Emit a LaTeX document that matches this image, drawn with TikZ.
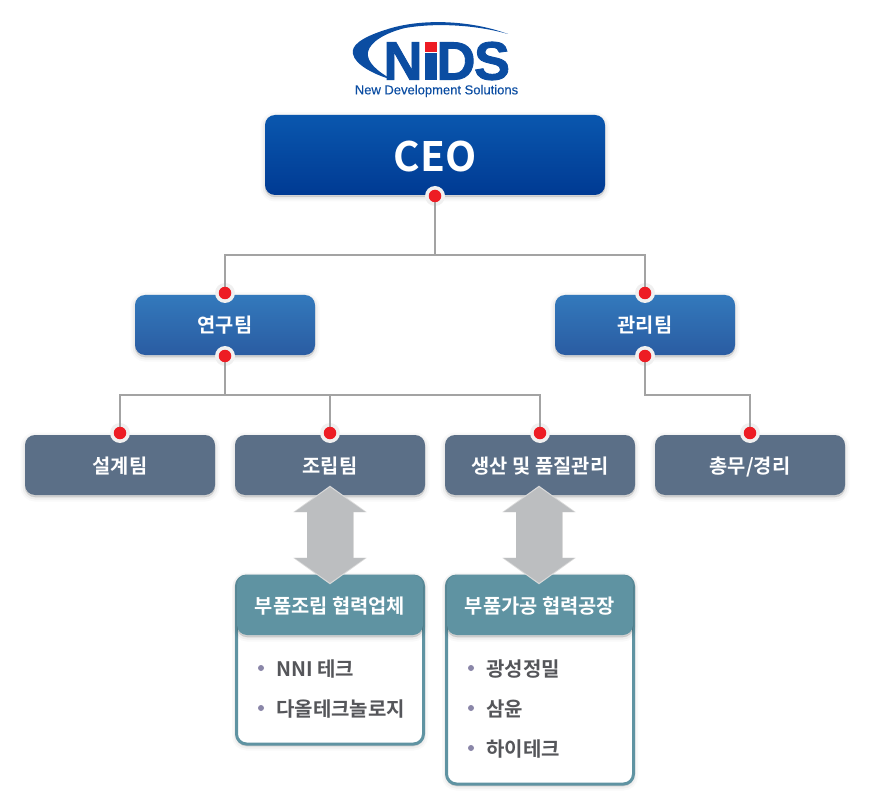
\documentclass[tikz,border=0pt]{standalone}
\usepackage{fontspec}
\setmainfont{Noto Sans CJK KR}[BoldFont={Noto Sans CJK KR Bold}]
\newfontfamily\logofont{Liberation Sans}[FakeBold=0.3]
\newfontfamily\logoheavy{Liberation Sans Bold}[FakeBold=1.6]
\usetikzlibrary{shadows,arrows.meta}

\definecolor{logoblue}{HTML}{0B4DA2}
\definecolor{ceotop}{HTML}{0A57AE}
\definecolor{ceobottom}{HTML}{003A93}
\definecolor{midtop}{HTML}{3379BC}
\definecolor{midbottom}{HTML}{2A5CA2}
\definecolor{teamgrey}{HTML}{5B6F87}
\definecolor{partnerteal}{HTML}{5F93A2}
\definecolor{wiregrey}{HTML}{A3A3A3}
\definecolor{dotred}{HTML}{ED1C24}
\definecolor{ringgrey}{HTML}{F0F0F0}
\definecolor{swapedge}{HTML}{DADADA}
\definecolor{arrowgrey}{HTML}{BCBEC0}
\definecolor{bulletgrey}{HTML}{8A86A8}
\definecolor{itemgrey}{HTML}{55565A}

\tikzset{
    softshadow/.style={
        general shadow={fill=black,draw=black,line width=9pt,opacity=.025,shadow yshift=-2pt},
        general shadow={fill=black,draw=black,line width=5pt,opacity=.04,shadow yshift=-2pt},
        general shadow={fill=black,draw=black,line width=1pt,opacity=.06,shadow yshift=-2pt}},
    boxbase/.style={rounded corners=10pt,softshadow,text=white,font=\bfseries\fontsize{19.8}{22}\selectfont,inner sep=0pt,text height=16pt,text depth=0pt},
    ceobox/.style={boxbase,minimum width=340pt,minimum height=80pt,top color=ceotop,bottom color=ceobottom,font=\bfseries\fontsize{40.5}{44}\selectfont,text height=33pt},
    midbox/.style={boxbase,minimum width=180pt,minimum height=60pt,top color=midtop,bottom color=midbottom},
    teambox/.style={boxbase,minimum width=190pt,minimum height=60pt,fill=teamgrey},
    partnerbox/.style={rounded corners=10pt,softshadow,draw=partnerteal,line width=3pt,fill=white,minimum width=187pt,inner sep=0pt},
    partnerhead/.style={boxbase,minimum width=186pt,minimum height=60pt,fill=partnerteal},
    wire/.style={draw=wiregrey,line width=2pt},
    jointring/.style={circle,fill=ringgrey,minimum size=20pt,inner sep=0pt},
    joint/.style={circle,fill=dotred,minimum size=12.5pt,inner sep=0pt},
    swapunder/.style={draw=swapedge,line width=47pt,shorten <=-9.5pt,shorten >=-9.5pt,
        {Triangle[width=72.5pt,length=26.5pt]}-{Triangle[width=72.5pt,length=26.5pt]}},
    swap/.style={draw=arrowgrey,line width=46pt,shorten <=-8pt,shorten >=-8pt,
        {Triangle[width=70pt,length=25pt]}-{Triangle[width=70pt,length=25pt]}},
    bullet/.style={circle,fill=bulletgrey,minimum size=6pt,inner sep=0pt},
    item/.style={anchor=west,text=itemgrey,font=\bfseries\fontsize{20}{22}\selectfont,inner sep=0pt,text height=16pt,text depth=0pt}
}

\begin{document}
\begin{tikzpicture}[x=1pt,y=-1pt]
    \useasboundingbox (0,0) rectangle (870,810);

    % logo
    \fill[logoblue] (508,34) .. controls (470,20) and (420,18) .. (385,30)
        .. controls (360,38) and (351,46) .. (353,54)
        .. controls (355,65) and (375,75) .. (393,80)
        .. controls (378,72) and (366,62) .. (368,52)
        .. controls (370,42) and (385,33) .. (405,28)
        .. controls (440,22) and (480,26) .. (508,34) -- cycle;
    \node[logoblue,inner sep=0pt] (logoN) at (403,61) {\logoheavy\fontsize{54}{54}\selectfont N};
    \fill[logoblue] (425,53) rectangle (437,80);
    \fill[dotred] (425,42) rectangle (437,52);
    \node[logoblue,inner sep=0pt] (logoD) at (456,61) {\logoheavy\fontsize{54}{54}\selectfont D};
    \node[logoblue,inner sep=0pt] (logoS) at (492,61) {\logoheavy\fontsize{54}{54}\selectfont S};
    \node[logoblue,inner sep=0pt] (logotext) at (436.5,91) {\logofont\fontsize{13}{14}\selectfont New Development Solutions};

    % boxes
    \node[ceobox] (ceo) at (435,155) {CEO};
    \node[midbox] (research) at (225,325) {연구팀};
    \node[midbox] (admin) at (645,325) {관리팀};
    \node[teambox] (design) at (120,465) {설계팀};
    \node[teambox] (assembly) at (330,465) {조립팀};
    \node[teambox] (quality) at (540,465) {생산 및 품질관리};
    \node[teambox] (general) at (750,465) {총무/경리};

    % rings behind the lines, red dots in front
    \node[jointring] (rceo) at (435,196) {};
    \node[jointring] (rresearchtop) at (225,293) {};
    \node[jointring] (rresearchbot) at (225,356) {};
    \node[jointring] (radmintop) at (645,293) {};
    \node[jointring] (radminbot) at (645,356) {};
    \node[jointring] (rdesign) at (120,433) {};
    \node[jointring] (rassembly) at (330,433) {};
    \node[jointring] (rquality) at (540,433) {};
    \node[jointring] (rgeneral) at (750,433) {};

    % connecting lines
    \coordinate (ceohub) at (435,255);
    \coordinate (researchhub) at (225,395);
    \coordinate (adminhub) at (645,395);
    \draw[wire] (rceo.center) -- (ceohub) -| (rresearchtop.center);
    \draw[wire] (ceohub) -| (radmintop.center);
    \draw[wire] (rresearchbot.center) -- (researchhub) -| (rdesign.center);
    \draw[wire] (researchhub) -| (rassembly.center);
    \draw[wire] (researchhub) -| (rquality.center);
    \draw[wire] (radminbot.center) -- (adminhub) -| (rgeneral.center);

    \node[joint] (jceo) at (435,196) {};
    \node[joint] (jresearchtop) at (225,293) {};
    \node[joint] (jresearchbot) at (225,356) {};
    \node[joint] (jadmintop) at (645,293) {};
    \node[joint] (jadminbot) at (645,356) {};
    \node[joint] (jdesign) at (120,433) {};
    \node[joint] (jassembly) at (330,433) {};
    \node[joint] (jquality) at (540,433) {};
    \node[joint] (jgeneral) at (750,433) {};

    % partner lists
    \node[partnerbox,minimum height=168pt] (partnerA) at (330,660) {};
    \node[partnerbox,minimum height=208pt] (partnerB) at (540,680) {};
    \node[partnerhead] (headA) at (330,605) {부품조립 협력업체};
    \node[partnerhead] (headB) at (540,605) {부품가공 협력공장};

    % double arrows between teams and partners
    \draw[swapunder] (assembly.south) -- (headA.north);
    \draw[swap] (assembly.south) -- (headA.north);
    \draw[swapunder] ([xshift=-1pt]quality.south) -- ([xshift=-1pt]headB.north);
    \draw[swap] ([xshift=-1pt]quality.south) -- ([xshift=-1pt]headB.north);

    \node[bullet] (bulletAa) at (261,668) {};
    \node[item] (itemAa) at (276,668) {NNI 테크};
    \node[bullet] (bulletAb) at (261,708) {};
    \node[item] (itemAb) at (276,708) {다올테크놀로지};
    \node[bullet] (bulletBa) at (471,668) {};
    \node[item] (itemBa) at (486,668) {광성정밀};
    \node[bullet] (bulletBb) at (471,708) {};
    \node[item] (itemBb) at (486,708) {삼윤};
    \node[bullet] (bulletBc) at (471,748) {};
    \node[item] (itemBc) at (486,748) {하이테크};
\end{tikzpicture}
\end{document}
